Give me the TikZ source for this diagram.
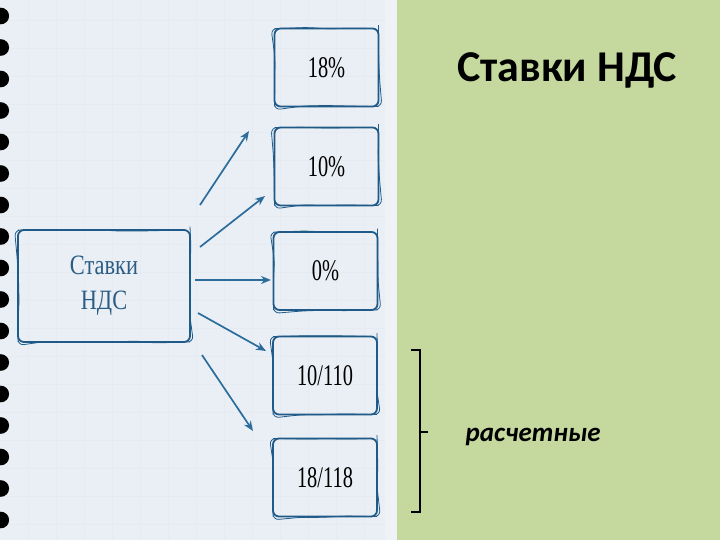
\documentclass[tikz,border=0pt]{standalone}
\usepackage{fontspec}
\setmainfont{Liberation Serif}
\newfontfamily\boxfont[FakeStretch=0.68]{Liberation Serif}
\newfontfamily\mainfont[FakeStretch=0.8]{Liberation Serif}
\newfontfamily\titlefont{Carlito}
\usetikzlibrary{arrows.meta,decorations.pathmorphing}
\definecolor{paper}{HTML}{EAEFF5}
\definecolor{gridc}{HTML}{E6EBF1}
\definecolor{greenbg}{HTML}{C5D89E}
\definecolor{boxblue}{HTML}{1F5A88}
\definecolor{arrowblue}{HTML}{2B6C9C}
\definecolor{textblue}{HTML}{2B5D84}
\tikzset{
  ratebox/.style={draw=boxblue, line width=1.8pt, rounded corners=6pt,
    minimum width=104pt, minimum height=78pt, inner sep=0pt,
    font=\boxfont\fontsize{30}{32}\selectfont,
    postaction={draw=boxblue, line width=0.8pt, decorate,
      decoration={random steps, segment length=22pt, amplitude=1.1pt}}},
  mainbox/.style={ratebox, minimum width=172pt, minimum height=112pt,
    align=center, text=textblue, font=\mainfont\fontsize{28}{35}\selectfont},
  rarrow/.style={draw=arrowblue, line width=1.7pt,
    -{Stealth[length=10pt,width=8pt]}},
}
\begin{document}
\begin{tikzpicture}[x=1pt,y=-1pt]
\useasboundingbox (0,0) rectangle (720,540);
% backgrounds
\fill[paper] (0,0) rectangle (397,540);
\fill[greenbg] (397,0) rectangle (720,540);
\fill[white,opacity=0.25] (385,0) rectangle (397,540);
\foreach \gx in {28,56,...,384} \draw[gridc,line width=0.4pt] (\gx,0) -- (\gx,540);
\foreach \gy in {20,48,...,540} \draw[gridc,line width=0.4pt] (0,\gy) -- (385,\gy);
% holes
\foreach \i in {0,...,16} \fill[black] (0.8,16+31.5*\i) circle [radius=8.3pt];
% boxes
\node[mainbox] (main) at (104,286) {Ставки\\НДС};
\node[ratebox] (r18) at (326.5,67.5) {18\%};
\node[ratebox] (r10) at (326.5,166.5) {10\%};
\node[ratebox] (r0) at (325.5,271) {0\%};
\node[ratebox] (r10110) at (325,375.5) {10/110};
\node[ratebox] (r18118) at (325,477.5) {18/118};
% arrows
\coordinate (a1s) at (200,205); \coordinate (a1e) at (249,131);
\coordinate (a2s) at (200,247); \coordinate (a2e) at (265,196);
\coordinate (a3s) at (195,280); \coordinate (a3e) at (271,280);
\coordinate (a4s) at (198,313); \coordinate (a4e) at (266,351);
\coordinate (a5s) at (202,355); \coordinate (a5e) at (253,431);
\draw[rarrow] (a1s) -- (a1e);
\draw[rarrow] (a2s) -- (a2e);
\draw[rarrow] (a3s) -- (a3e);
\draw[rarrow] (a4s) -- (a4e);
\draw[rarrow] (a5s) -- (a5e);
% title
\node[anchor=base, font=\titlefont\bfseries\fontsize{44}{50}\selectfont] (title) at (567,82) {Ставки НДС};
% bracket
\coordinate (bt) at (411,350); \coordinate (btr) at (420,350);
\coordinate (bb) at (411,512); \coordinate (bbr) at (420,512);
\coordinate (bm) at (420,432); \coordinate (bmr) at (428,432);
\draw[black, line width=2.6pt, line join=miter] (bt) -- (btr) -- (bbr) -- (bb);
\draw[black, line width=2.2pt] (bm) -- (bmr);
\node[anchor=base west, font=\titlefont\bfseries\itshape\fontsize{27}{32}\selectfont] (calc) at (462,441) {расчетные};
\end{tikzpicture}
\end{document}
